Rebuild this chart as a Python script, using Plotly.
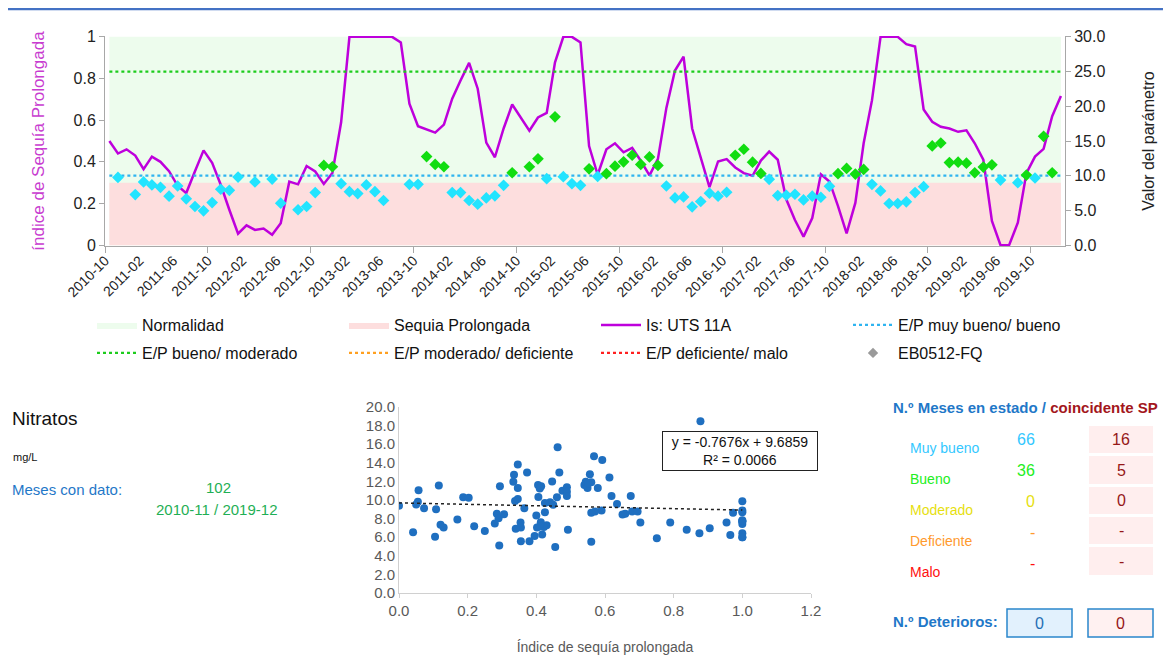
import pandas as pd
import plotly.graph_objects as go

# page has an 8px body margin: figure is drawn from (8, 8) in a 1171x660 window
OFF = 8
W, H = 1171 - OFF, 660 - OFF

# ---------------- DATA ----------------
# monthly categories of the drought-index series (2010-10 .. 2020-01)
months = pd.date_range("2010-10-01", periods=112, freq="MS").strftime("%Y-%m-%d").tolist()

# Índice de sequía prolongada (left axis)
drought_index = [
    0.50, 0.44, 0.46, 0.43, 0.365, 0.425, 0.40, 0.355, 0.285, 0.25,
    0.355, 0.455, 0.395, 0.29, 0.17, 0.055, 0.095, 0.073, 0.08, 0.05,
    0.105, 0.305, 0.292, 0.38, 0.354, 0.294, 0.346, 0.59, 1.0, 1.0,
    1.0, 1.0, 1.0, 1.0, 0.973, 0.679, 0.571, 0.556, 0.54, 0.579,
    0.703, 0.79, 0.875, 0.751, 0.492, 0.422, 0.56, 0.675, 0.613, 0.549,
    0.613, 0.635, 0.878, 1.0, 1.0, 0.973, 0.476, 0.338, 0.46, 0.489,
    0.446, 0.467, 0.405, 0.335, 0.414, 0.659, 0.838, 0.905, 0.56, 0.417,
    0.279, 0.402, 0.413, 0.373, 0.346, 0.333, 0.406, 0.449, 0.41, 0.219,
    0.121, 0.041, 0.13, 0.34, 0.306, 0.187, 0.057, 0.203, 0.489, 0.695,
    1.0, 1.0, 1.0, 0.965, 0.954, 0.651, 0.592, 0.568, 0.56, 0.544,
    0.551, 0.489, 0.41, 0.116, 0.0, 0.0, 0.108, 0.346, 0.425, 0.462,
    0.619, 0.716,
]

# Nitratos EB0512-FQ, mg/L (right axis); None = month without data
nitrate = [
    None, 9.76, None, 7.29, 9.1, 8.67, 8.33, 7.05, 8.52, 6.67,
    5.57, 4.95, 6.14, 8.05, 7.9, 9.8, None, 9.1, None, 9.52,
    6.05, None, 5.1, 5.57, 7.57, 11.48, 11.29, 8.86, 7.71, 7.43,
    8.67, 7.71, 6.43, None, None, 8.76, 8.76, 12.76, 11.62, 11.29,
    7.57, 7.57, 6.43, 5.9, 6.81, 7.1, 8.62, 10.43, None, 11.29,
    12.43, 9.57, 18.48, 9.86, 8.86, 8.62, 11.0, 9.9, 10.29, 11.38,
    12.0, 12.95, 11.62, 12.71, 11.48, 8.52, 6.81, 6.95, 5.52, 6.29,
    7.48, 7.05, 7.62, 12.95, 13.81, 11.95, 10.33, 9.48, 7.14, 7.19,
    7.33, 6.52, 7.05, 6.9, 8.48, 10.29, 11.05, 10.24, 10.9, 8.76,
    7.81, 6.0, 6.0, 6.24, 7.57, 8.43, 14.29, 14.71, 11.9, 11.95,
    11.81, 10.43, 11.24, 11.57, 9.38, None, 9.0, 10.1, 9.67, 15.67,
    10.43, None,
]

# thresholds / bands
TH_MUY_BUENO_BUENO = 10.0
TH_BUENO_MODERADO = 25.0
NORMAL_TOP = 1.0
SEQUIA_TOP = 0.3

# trend line shown in scatter (Excel)
trend_slope = -0.7676
trend_intercept = 9.6859
trend_r2 = 0.0066

# summary table
state_labels = ["Muy bueno", "Bueno", "Moderado", "Deficiente", "Malo"]
state_counts = ["66", "36", "0", "-", "-"]
state_sp_counts = ["16", "5", "0", "-", "-"]
state_colors = ["#33C8FF", "#22EE22", "#E6E010", "#FF9A2E", "#FF1010"]
deterioros = ["0", "0"]
meses_con_dato = "102"
periodo = "2010-11 / 2019-12"

# ---------------- HELPERS ----------------
def X(px):
    return (px - OFF) / W


def Y(py):
    return 1 - (py - OFF) / H


FONT = "Arial, Liberation Sans, sans-serif"
PER = dict(xperiod="M1", xperiodalignment="middle")

fig = go.Figure()

# bands
fig.add_trace(go.Scatter(x=[months[0], months[-1]], y=[NORMAL_TOP, NORMAL_TOP], mode="lines",
                         fill="tozeroy", fillcolor="#EDFCED", line=dict(width=0, color="#EDFCED"),
                         name="Normalidad", hoverinfo="skip", legend="legend", **PER))
fig.add_trace(go.Scatter(x=[months[0], months[-1]], y=[SEQUIA_TOP, SEQUIA_TOP], mode="lines",
                         fill="tozeroy", fillcolor="#FDDEDE", line=dict(width=0, color="#FDDEDE"),
                         name="Sequia Prolongada", hoverinfo="skip", legend="legend", **PER))
# index line
fig.add_trace(go.Scatter(x=months, y=drought_index, mode="lines",
                         line=dict(color="#BE00DC", width=2.5), name="Is: UTS 11A",
                         legend="legend", **PER))
# thresholds
fig.add_trace(go.Scatter(x=[months[0], months[-1]], y=[TH_MUY_BUENO_BUENO] * 2, yaxis="y2",
                         mode="lines", line=dict(color="#2FB4F0", width=2.2, dash="dot"),
                         name="E/P muy bueno/ bueno", legend="legend", **PER))
fig.add_trace(go.Scatter(x=[months[0], months[-1]], y=[TH_BUENO_MODERADO] * 2, yaxis="y2",
                         mode="lines", line=dict(color="#1DCC1D", width=2.2, dash="dot"),
                         name="E/P bueno/ moderado", legend="legend2", **PER))
fig.add_trace(go.Scatter(x=[None], y=[None], yaxis="y2", mode="lines",
                         line=dict(color="#FFA020", width=2.2, dash="dot"),
                         name="E/P moderado/ deficiente", legend="legend2"))
fig.add_trace(go.Scatter(x=[None], y=[None], yaxis="y2", mode="lines",
                         line=dict(color="#FF2020", width=2.2, dash="dot"),
                         name="E/P deficiente/ malo", legend="legend2"))
fig.add_trace(go.Scatter(x=[None], y=[None], yaxis="y2", mode="markers",
                         marker=dict(symbol="diamond", color="#9A9A9A", size=8),
                         name="EB0512-FQ", legend="legend2"))
# nitrate diamonds
nx = [m for m, v in zip(months, nitrate) if v is not None]
ny = [v for v in nitrate if v is not None]
ncol = ["#22E4FF" if v < TH_MUY_BUENO_BUENO else "#11DD11" for v in ny]
fig.add_trace(go.Scatter(x=nx, y=ny, yaxis="y2", mode="markers",
                         marker=dict(symbol="diamond", color=ncol, size=9, line=dict(width=0)),
                         showlegend=False, **PER))

# yearly tick marks helper axis
fig.add_trace(go.Scatter(x=[months[0]], y=[None], xaxis="x3", showlegend=False, hoverinfo="skip"))

# scatter index vs nitrate
sx = [d for d, v in zip(drought_index, nitrate) if v is not None]
sy = [v for v in nitrate if v is not None]
fig.add_trace(go.Scatter(x=sx, y=sy, xaxis="x2", yaxis="y3", mode="markers",
                         marker=dict(color="#1F6FC0", size=8), showlegend=False))
tx = [0.0, 1.0]
fig.add_trace(go.Scatter(x=tx, y=[trend_intercept + trend_slope * t for t in tx], xaxis="x2", yaxis="y3",
                         mode="lines", line=dict(color="#222222", width=1.5, dash="dot"), showlegend=False))

xr = ["2010-10-01", "2020-01-31"]
top_dom = [Y(246), Y(36)]
axis_common = dict(showgrid=False, zeroline=False, showline=True, linecolor="#A8A8A8",
                   ticks="outside", ticklen=5, tickcolor="#A8A8A8", automargin=False)
leg_common = dict(orientation="h", xanchor="left", yanchor="top", entrywidth=197,
                  entrywidthmode="pixels", itemwidth=40,
                  font=dict(family=FONT, size=16, color="#111111"),
                  bgcolor="rgba(0,0,0,0)", traceorder="normal")

fig.update_layout(
    width=W, height=H, autosize=False,
    margin=dict(l=0, r=0, t=0, b=0),
    paper_bgcolor="white", plot_bgcolor="white",
    font=dict(family=FONT, color="#222222"),
    xaxis=dict(domain=[X(105), X(1065)], type="date", range=xr, anchor="y",
               dtick="M4", tick0="2010-10-01", tickformat="%Y-%m", tickangle=-45,
               showgrid=False, zeroline=False, showline=True, linecolor="#A8A8A8",
               ticks="", tickfont=dict(size=14, color="#222222"), automargin=False),
    xaxis3=dict(domain=[X(105), X(1065)], type="date", range=xr, anchor="y", overlaying="x",
                dtick="M12", tick0="2010-10-01", showticklabels=False, showgrid=False,
                zeroline=False, showline=False, ticks="outside", ticklen=6, tickcolor="#A8A8A8",
                automargin=False),
    yaxis=dict(domain=top_dom, range=[-0.004, 1.004], tickvals=[0, 0.2, 0.4, 0.6, 0.8, 1],
               ticktext=["0", "0.2", "0.4", "0.6", "0.8", "1"],
               tickfont=dict(size=16, color="#222222"),
               title=dict(text="índice de Sequía Prolongada", font=dict(size=17, color="#C83CD0"),
                          standoff=24),
               **axis_common),
    yaxis2=dict(domain=top_dom, range=[-0.12, 30.12], overlaying="y", side="right", anchor="x",
                tickvals=[0, 5, 10, 15, 20, 25, 30], tickformat=".1f",
                tickfont=dict(size=16, color="#222222"),
                title=dict(text="Valor del parámetro", font=dict(size=16, color="#222222"), standoff=38),
                **axis_common),
    xaxis2=dict(domain=[X(399), X(811)], range=[0, 1.2], dtick=0.2, tickformat=".1f", anchor="y3",
                showgrid=False, zeroline=False, showline=True, linecolor="#D0D0D0",
                ticks="outside", ticklen=4, tickcolor="#D0D0D0", automargin=False,
                tickfont=dict(size=15, color="#595959"),
                title=dict(text="Índice de sequía prolongada", font=dict(size=14, color="#595959"),
                           standoff=24)),
    yaxis3=dict(domain=[Y(593), Y(407)], range=[0, 20], dtick=2, tickformat=".1f", anchor="x2",
                showgrid=False, zeroline=False, showline=True, linecolor="#D0D0D0", automargin=False,
                ticks="", tickfont=dict(size=15, color="#595959")),
    legend=dict(x=X(92), y=Y(308), **leg_common),
    legend2=dict(x=X(92), y=Y(336), **leg_common),
    showlegend=True,
)

shapes = [
    dict(type="line", xref="paper", yref="paper", x0=X(8), x1=X(1171), y0=Y(9), y1=Y(9),
         line=dict(color="#4472C4", width=2.5)),
]
ann = []


def txt(t, x, y, size, color, xanchor="left", bold=False, family=FONT):
    ann.append(dict(text=("<b>%s</b>" % t) if bold else t, x=X(x), y=Y(y), xref="paper", yref="paper",
                    xanchor=xanchor, yanchor="middle", showarrow=False,
                    font=dict(size=size, color=color, family=family)))


# left info block
txt("Nitratos", 10, 418, 19, "#111111")
txt("mg/L", 11, 457, 11, "#111111")
txt("Meses con dato:", 10, 489, 15, "#1F78C8")
txt(meses_con_dato, 218, 487, 15, "#1FAF55", xanchor="center")
txt(periodo, 217, 509, 15, "#1FAF55", xanchor="center")

# regression box
ann.append(dict(text="y = -0.7676x + 9.6859<br>R² = %.4f" % trend_r2, x=X(740), y=Y(451),
                xref="paper", yref="paper", xanchor="center", yanchor="middle", showarrow=False,
                font=dict(size=14, color="#111111"), bgcolor="white", bordercolor="#222222",
                borderwidth=1, borderpad=2, width=150, align="center"))

# right table
ann.append(dict(text="<b>N.º Meses en estado / <span style='color:#A3161C'>coincidente SP</span></b>",
                x=X(891), y=Y(407), xref="paper", yref="paper", xanchor="left", yanchor="middle",
                showarrow=False, font=dict(size=15, color="#1F78C8")))
label_y = [448, 479, 510, 541, 572]
value_y = [440, 470, 501, 532, 563]
box_y = [(426, 453), (456, 484), (487, 514), (517, 544), (547, 575)]
for lab, cnt, sp, col, ly, vy, (b0, b1) in zip(state_labels, state_counts, state_sp_counts,
                                                state_colors, label_y, value_y, box_y):
    txt(lab, 908, ly, 14, col)
    txt(cnt, 1037, vy, 16, col, xanchor="right")
    shapes.append(dict(type="rect", xref="paper", yref="paper", x0=X(1089), x1=X(1153),
                       y0=Y(b1), y1=Y(b0), fillcolor="#FFEEEE", line=dict(width=0), layer="below"))
    txt(sp, 1121, (b0 + b1) / 2, 16, "#961818", xanchor="center")

txt("N.º Deterioros:", 891, 621, 15, "#1F78C8", bold=True)
shapes.append(dict(type="rect", xref="paper", yref="paper", x0=X(1007), x1=X(1072), y0=Y(637), y1=Y(609),
                   fillcolor="#E2F1FD", line=dict(color="#2A86CC", width=1.5)))
shapes.append(dict(type="rect", xref="paper", yref="paper", x0=X(1088), x1=X(1153), y0=Y(637), y1=Y(609),
                   fillcolor="#FFF1F1", line=dict(color="#2A86CC", width=1.5)))
txt(deterioros[0], 1039, 623, 16, "#1F6FB5", xanchor="center")
txt(deterioros[1], 1120, 623, 16, "#961818", xanchor="center")

fig.update_layout(shapes=shapes, annotations=ann)
fig.write_html("out.html")
